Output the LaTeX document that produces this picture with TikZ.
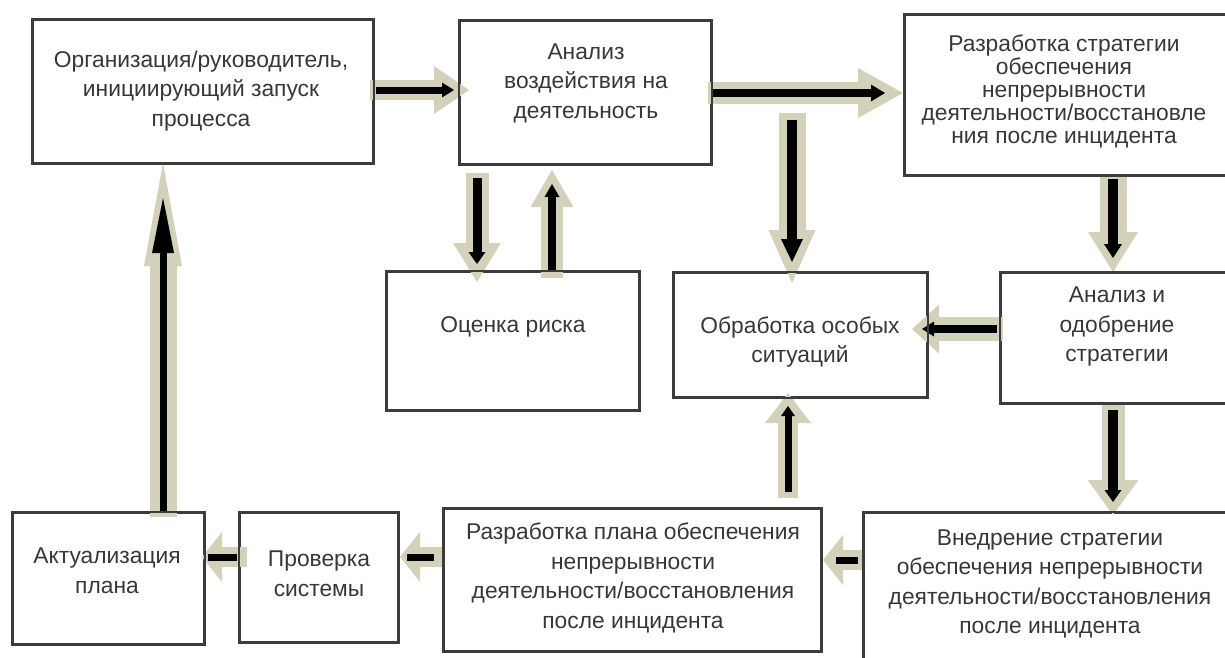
\documentclass[tikz,border=0pt]{standalone}
\usepackage{fontspec}
\setmainfont{Liberation Sans}
\usetikzlibrary{arrows.meta}
\definecolor{beige}{RGB}{212,209,186}
\definecolor{boxgray}{RGB}{60,60,60}
\definecolor{txtgray}{RGB}{55,55,55}
\tikzset{
  box/.style={draw=boxgray, line width=2pt, inner sep=0pt},
  txt/.style={align=center, text=txtgray, inner sep=0pt, font=\fontsize{22.8}{29.5}\selectfont},
  tighttxt/.style={font=\fontsize{22.8}{23}\selectfont},
  outerarrow/.style args={#1/#2/#3}{draw=beige, line width=#1, -{Triangle[length=#2, width=#3, line width=0pt]}},
  innerarrow/.style args={#1/#2/#3}{draw=black, line width=#1, -{Triangle[length=#2, width=#3, line width=0pt]}},
  blackbar/.style={draw=black, line width=7pt},
}
\begin{document}
\begin{tikzpicture}[x=1pt,y=-1pt]
\useasboundingbox (0,0) rectangle (1225,657);
% boxes (anchors)
\node[box, minimum width=340pt, minimum height=143pt] (org) at (203,91.5) {};
\node[box, minimum width=251pt, minimum height=143pt] (anal) at (585.5,92.5) {};
\node[box, minimum width=335pt, minimum height=160pt] (strat) at (1072.5,95) {};
\node[box, minimum width=252pt, minimum height=138pt] (ocen) at (513,341) {};
\node[box, minimum width=253pt, minimum height=124pt] (obr) at (800.5,335) {};
\node[box, minimum width=239pt, minimum height=130pt] (odobr) at (1120.5,338) {};
\node[box, minimum width=191pt, minimum height=131pt] (akt) at (108.5,578.5) {};
\node[box, minimum width=158pt, minimum height=129pt] (prov) at (319,577.5) {};
\node[box, minimum width=377pt, minimum height=142pt] (plan) at (632.5,580) {};
\node[box, minimum width=376pt, minimum height=157pt] (vned) at (1052,591.5) {};

% arrow end points
\coordinate (a1s) at (370,90);   \coordinate (a1e) at (469,90);
\coordinate (a1bs) at (376,90);  \coordinate (a1be) at (454,90);
\coordinate (a2s) at (708,93);   \coordinate (a2e) at (903,93);
\coordinate (a2bs) at (712,93);  \coordinate (a2be) at (885,93);
\coordinate (a3s) at (792,113);  \coordinate (a3e) at (792,283);
\coordinate (a3bs) at (792,120); \coordinate (a3be) at (792,262);
\coordinate (a4s) at (477,173);  \coordinate (a4e) at (477,282);
\coordinate (a4bs) at (477,178); \coordinate (a4be) at (477,264);
\coordinate (a5s) at (552,278);  \coordinate (a5e) at (552,170);
\coordinate (a5bs) at (552,272); \coordinate (a5be) at (552,184);
\coordinate (a6s) at (1113,177); \coordinate (a6e) at (1113,272);
\coordinate (a6bs) at (1113,179);\coordinate (a6be) at (1113,258);
\coordinate (a7s) at (1003,329); \coordinate (a7e) at (912,329);
\coordinate (a7bs) at (997,329); \coordinate (a7be) at (922,329);
\coordinate (a8s) at (1113,405); \coordinate (a8e) at (1113,515);
\coordinate (a8bs) at (1113,410);\coordinate (a8be) at (1113,502);
\coordinate (a9s) at (788,498);  \coordinate (a9e) at (788,393);
\coordinate (a9bs) at (788,492); \coordinate (a9be) at (788,406);
\coordinate (a10s) at (864,560); \coordinate (a10e) at (823,560);
\coordinate (a10bs) at (858,560);\coordinate (a10be) at (836,560);
\coordinate (a11s) at (443,557); \coordinate (a11e) at (400,557);
\coordinate (a11bs) at (434,557);\coordinate (a11be) at (407,557);
\coordinate (a12s) at (247,557); \coordinate (a12e) at (202,557);
\coordinate (a12bs) at (237,557);\coordinate (a12be) at (208,557);
\coordinate (a13s) at (163,517); \coordinate (a13e) at (163,163);
\coordinate (a13bs) at (163,512);\coordinate (a13be) at (163,198);

% beige block arrows
\draw[outerarrow=20pt/35pt/48pt] (a1s) -- (a1e);
\draw[outerarrow=22pt/45pt/50pt] (a2s) -- (a2e);
\draw[outerarrow=27pt/53pt/47pt] (a3s) -- (a3e);
\draw[outerarrow=23pt/39pt/48pt] (a4s) -- (a4e);
\draw[outerarrow=22pt/37pt/43pt] (a5s) -- (a5e);
\draw[outerarrow=27pt/40pt/50pt] (a6s) -- (a6e);
\draw[outerarrow=24pt/27pt/49pt] (a7s) -- (a7e);
\draw[outerarrow=23pt/35pt/51pt] (a8s) -- (a8e);
\draw[outerarrow=20pt/30pt/46pt] (a9s) -- (a9e);
\draw[outerarrow=20pt/20pt/50pt] (a10s) -- (a10e);
\draw[outerarrow=20pt/20pt/50pt] (a11s) -- (a11e);
\draw[outerarrow=20pt/20pt/50pt] (a12s) -- (a12e);
\draw[outerarrow=27pt/103pt/38pt] (a13s) -- (a13e);

% black inner arrows
\draw[innerarrow=7pt/12pt/15pt] (a1bs) -- (a1be);
\draw[innerarrow=8pt/14pt/17pt] (a2bs) -- (a2be);
\draw[innerarrow=10pt/23pt/22pt] (a3bs) -- (a3be);
\draw[innerarrow=9pt/12pt/17pt] (a4bs) -- (a4be);
\draw[innerarrow=8pt/13pt/15pt] (a5bs) -- (a5be);
\draw[innerarrow=10pt/14pt/18pt] (a6bs) -- (a6be);
\draw[innerarrow=8pt/12pt/15pt] (a7bs) -- (a7be);
\draw[innerarrow=10pt/12pt/17pt] (a8bs) -- (a8be);
\draw[innerarrow=7pt/10pt/14pt] (a9bs) -- (a9be);
\draw[blackbar] (a10bs) -- (a10be);
\draw[blackbar] (a11bs) -- (a11be);
\draw[blackbar] (a12bs) -- (a12be);
\draw[innerarrow=7pt/55pt/22pt] (a13bs) -- (a13be);

% box frames drawn over the arrows
\foreach \n in {org,anal,strat,ocen,obr,odobr,akt,prov,plan,vned}
  \draw[draw=boxgray, line width=2pt] (\n.north west) rectangle (\n.south east);

% texts
\node[txt] (orgt) at (201,91) {Организация/руководитель,\\инициирующий запуск\\процесса};
\node[txt] (analt) at (586,83) {Анализ\\воздействия на\\деятельность};
\node[txt, tighttxt] (stratt) at (1064,91) {Разработка стратегии\\обеспечения\\непрерывности\\деятельности/восстановле\\ния после инцидента};
\node[txt] (ocent) at (513,327) {Оценка риска};
\node[txt] (obrt) at (800,342) {Обработка особых\\ситуаций};
\node[txt] (odobrt) at (1117,327) {Анализ и\\одобрение\\стратегии};
\node[txt] (aktt) at (107,571) {Актуализация\\плана};
\node[txt] (provt) at (319,574) {Проверка\\системы};
\node[txt] (plant) at (633,578) {Разработка плана обеспечения\\непрерывности\\деятельности/восстановления\\после инцидента};
\node[txt] (vnedt) at (1050,584) {Внедрение стратегии\\обеспечения непрерывности\\деятельности/восстановления\\после инцидента};
\end{tikzpicture}
\end{document}
